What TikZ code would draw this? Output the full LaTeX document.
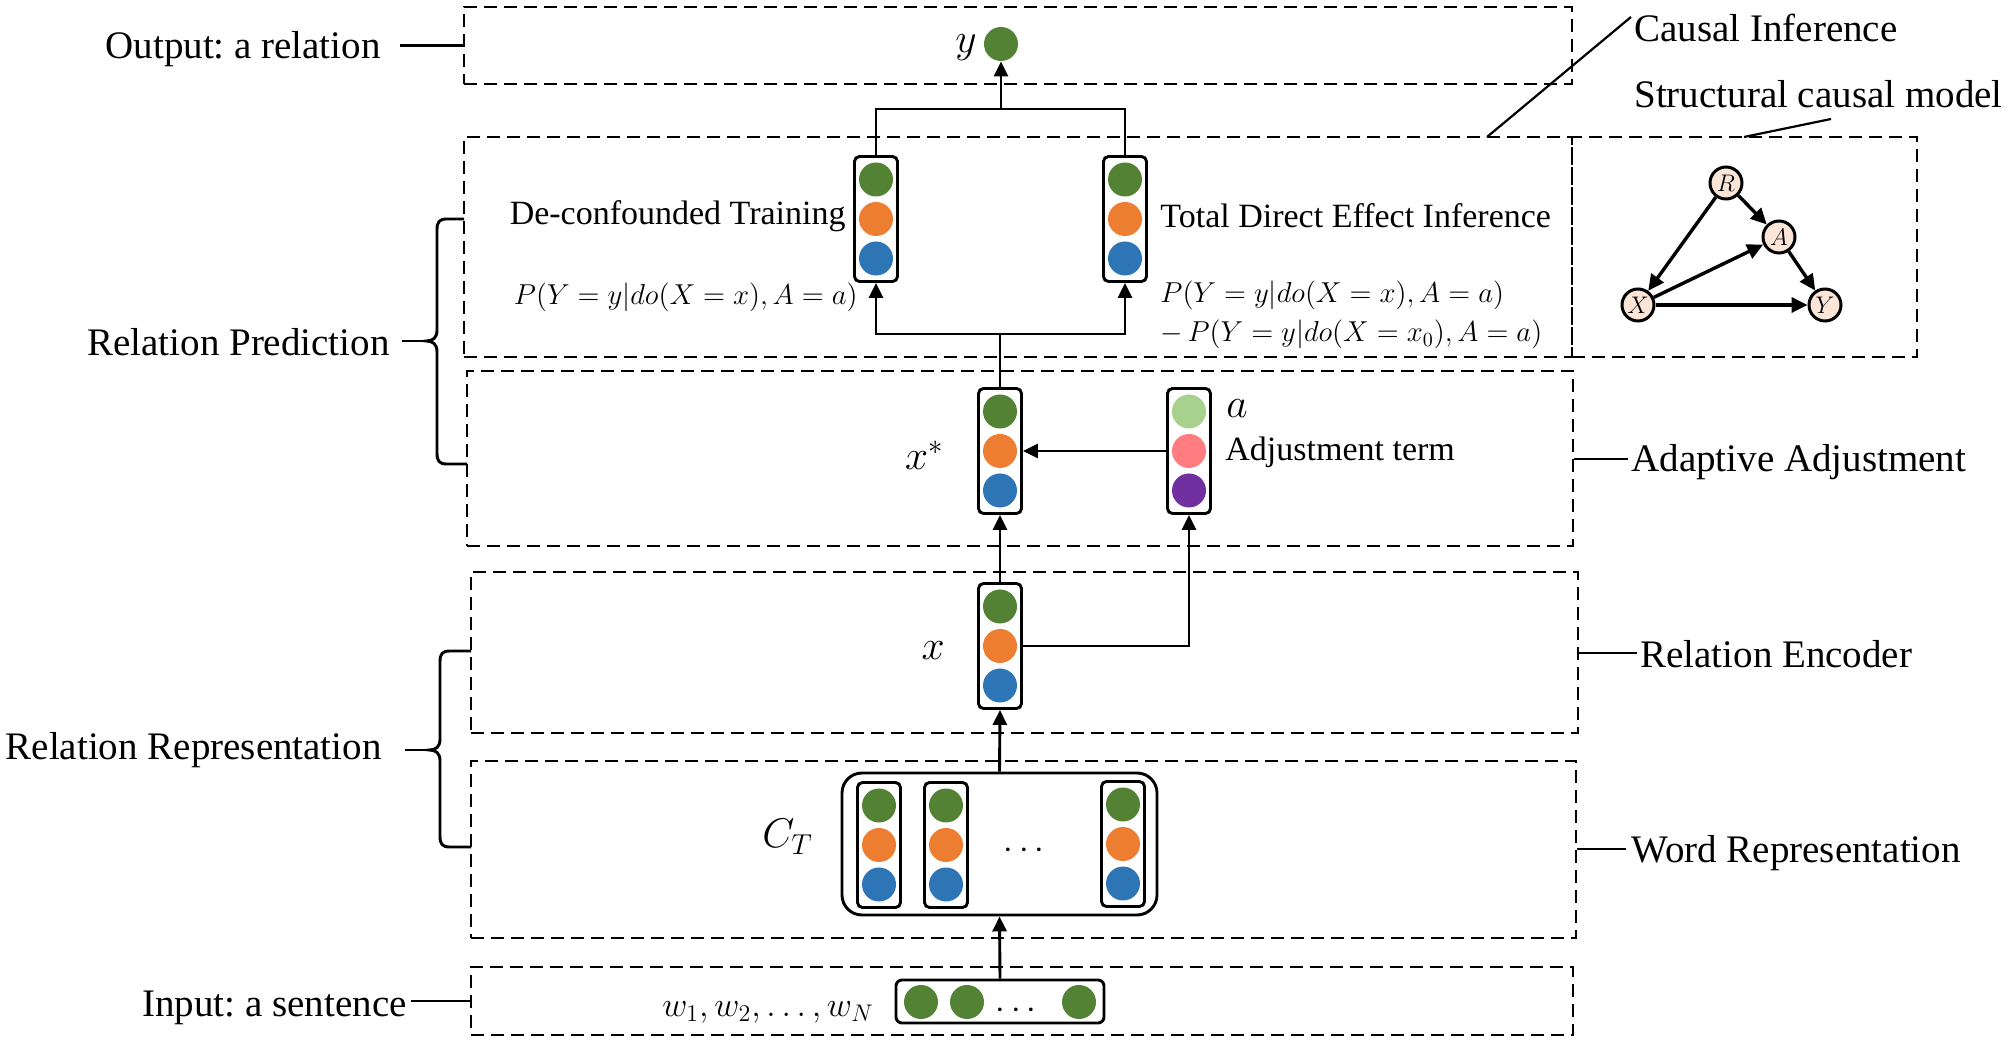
\documentclass[tikz,border=0pt]{standalone}
\usepackage{fontspec}
\setmainfont{Liberation Serif}
\usetikzlibrary{arrows.meta,fit}
\frenchspacing
\definecolor{cgreen}{HTML}{548235}
\definecolor{corange}{HTML}{ED7D31}
\definecolor{cblue}{HTML}{2E75B6}
\definecolor{clgreen}{HTML}{A9D18E}
\definecolor{cpink}{HTML}{FF7C80}
\definecolor{cpurple}{HTML}{7030A0}
\definecolor{cpeach}{HTML}{FBE5D6}
\tikzset{
  dashbox/.style={draw, line width=1.35pt, dash pattern=on 6.5pt off 3.5pt, inner sep=0pt},
  lbl/.style={font=\fontsize{19.5}{21}\selectfont, inner sep=0pt},
  ilbl/.style={font=\fontsize{17}{19}\selectfont, inner sep=0pt},
  mlbl/.style={font=\fontsize{14.6}{16}\selectfont, inner sep=0pt},
  mbig/.style={font=\fontsize{21}{23}\selectfont, inner sep=0pt},
  mmid/.style={font=\fontsize{18}{20}\selectfont, inner sep=0pt},
  conn/.style={line width=1.45pt},
  arr/.style={conn, -{Triangle[length=7.5pt,width=7pt]}},
  vecbox/.style={draw, line width=1.45pt, rounded corners=2.5pt, minimum width=21.5pt, minimum height=62.5pt, inner sep=0pt},
  vdot/.style={circle, minimum size=17pt, inner sep=0pt},
  scm/.style={circle, draw, line width=1.5pt, fill=cpeach, minimum size=16pt, inner sep=0pt, font=\fontsize{13}{14}\selectfont},
  scmarr/.style={line width=1.7pt, -{Triangle[length=8pt,width=7.5pt]}},
  rbox/.style={draw, line width=1.45pt, inner sep=0pt},
}
\newcommand\mkvec[5]{%
  \node[vecbox] (#1) at (#2) {};
  \node[vdot, fill=#3] (#1-1) at ([yshift=19.75pt]#1.center) {};
  \node[vdot, fill=#4] (#1-2) at (#1.center) {};
  \node[vdot, fill=#5] (#1-3) at ([yshift=-19.75pt]#1.center) {};
}
\begin{document}
\begin{tikzpicture}[x=0.5pt,y=-0.5pt]
\useasboundingbox (0,0) rectangle (2015,1047);

% dashed boxes
\node[dashbox, fit={(464,7)(1572,84)}] (outbox) {};
\node[dashbox, fit={(464,137)(1572,357)}] (predbox) {};
\node[dashbox, fit={(1572,137)(1917,357)}] (scmbox) {};
\node[dashbox, fit={(467,371)(1573,546)}] (adabox) {};
\node[dashbox, fit={(471,572)(1578,733)}] (encbox) {};
\node[dashbox, fit={(471,761)(1576,938)}] (wordbox) {};
\node[dashbox, fit={(471,967)(1573,1035)}] (inbox) {};

% left labels
\node[lbl, anchor=base east] (outlbl) at (381,59) {Output: a relation};
\coordinate (outtick) at (400,45.5);
\draw[conn] (outtick) -- (outtick -| outbox.west);

\node[lbl, anchor=base east] (predlbl) at (390,356) {Relation Prediction};
\draw[conn] (402,341) -- (426,341);
\draw[conn] (464,219) -- (447,219) .. controls (439,219) and (437,222) .. (437,230) -- (437,330)
  .. controls (437,338) and (433,341) .. (426,341) .. controls (433,341) and (437,344) .. (437,352)
  -- (437,453) .. controls (437,461) and (439,464) .. (447,464) -- (467,464);

\node[lbl, anchor=base east] (replbl) at (382,760) {Relation Representation};
\draw[conn] (405,750) -- (429,750);
\draw[conn] (471,651) -- (450,651) .. controls (442,651) and (440,654) .. (440,662) -- (440,739)
  .. controls (440,747) and (436,750) .. (429,750) .. controls (436,750) and (440,753) .. (440,761)
  -- (440,836) .. controls (440,844) and (442,847) .. (450,847) -- (471,847);

\node[lbl, anchor=base east] (inlbl) at (407,1016) {Input: a sentence};
\coordinate (intick) at (411,1001);
\draw[conn] (intick) -- (intick -| inbox.west);

% right labels
\node[lbl, anchor=base west] (cilbl) at (1634,42) {Causal Inference};
\coordinate (cia) at (1631,17);
\coordinate (cib) at (1487,137);
\draw[conn, line width=1.1pt] (cia) -- (cib);
\node[lbl, anchor=base west] (scmlbl) at (1634,108) {Structural causal model};
\coordinate (sca) at (1831,119);
\coordinate (scb) at (1744,137);
\draw[conn, line width=1.1pt] (sca) -- (scb);

\node[lbl, anchor=base west] (adalbl) at (1631,472) {Adaptive Adjustment};
\coordinate (adat) at (1628,459);
\draw[conn] (adat -| adabox.east) -- (adat);
\node[lbl, anchor=base west] (enclbl) at (1640,668) {Relation Encoder};
\coordinate (enct) at (1637,653);
\draw[conn] (enct -| encbox.east) -- (enct);
\node[lbl, anchor=base west] (wordlbl) at (1631,863) {Word Representation};
\coordinate (wordt) at (1626,849);
\draw[conn] (wordt -| wordbox.east) -- (wordt);

% output
\node[vdot, fill=cgreen] (ynode) at (1001,44) {};
\node[mbig, anchor=base east] (ylbl) at (977,53) {$y$};

% prediction columns
\mkvec{dt}{876,219}{cgreen}{corange}{cblue}
\mkvec{tde}{1125,219}{cgreen}{corange}{cblue}
\node[ilbl, anchor=base east] (dtlbl) at (846,225) {De-confounded Training};
\node[mlbl, anchor=base east] (dtf) at (858,305) {$P(Y=y|do(X=x),A=a)$};
\node[ilbl, anchor=base west] (tdelbl) at (1160,228) {Total Direct Effect Inference};
\node[mlbl, anchor=base west] (tdef1) at (1160,303) {$P(Y=y|do(X=x),A=a)$};
\node[mlbl, anchor=base west] (tdef2) at (1160,342) {$-\,P(Y=y|do(X=x_0),A=a)$};

% adjustment
\mkvec{xs}{1000,451}{cgreen}{corange}{cblue}
\mkvec{av}{1189,451}{clgreen}{cpink}{cpurple}
\node[mbig, anchor=base east] (xslbl) at (944,470) {$x^*$};
\node[mbig, anchor=base west] (albl) at (1226,418) {$a$};
\node[ilbl, anchor=base west] (adjlbl) at (1225,461) {Adjustment term};

% encoder
\mkvec{xv}{1000,646}{cgreen}{corange}{cblue}
\node[mbig, anchor=base east] (xlbl) at (945,660) {$x$};

% word representation
\node[rbox, rounded corners=10pt, fit={(842,773)(1157,915)}] (wbox) {};
\mkvec{w1}{879,845}{cgreen}{corange}{cblue}
\mkvec{w2}{946,845}{cgreen}{corange}{cblue}
\mkvec{w3}{1123,844}{cgreen}{corange}{cblue}
\node[mmid] (wdots) at (1024,851) {$\cdots$};
\node[mbig, anchor=base west] (ctlbl) at (762,848) {$C_T$};

% input
\node[rbox, rounded corners=3pt, fit={(896,980)(1104,1023)}] (invec) {};
\node[vdot, fill=cgreen] (i1) at (921,1002) {};
\node[vdot, fill=cgreen] (i2) at (967,1002) {};
\node[vdot, fill=cgreen] (i3) at (1079,1002) {};
\node[mmid] (idots) at (1016,1011) {$\cdots$};
\node[mmid, anchor=base east] (wlbl) at (874,1016) {$w_1,w_2,\dots,w_N$};

% connectors
\draw[arr] (invec.north) -- (wbox.south);
\draw[arr] (wbox.north) -- (xv.south);
\draw[arr] (xv.north) -- (xs.south);
\draw[arr] (xv.east) -| (av.south);
\draw[arr] (av.west) -- (xs.east);
\coordinate (jlow) at (1000,334);
\draw[conn] (xs.north) -- (jlow);
\draw[arr] (jlow) -| (dt.south);
\draw[arr] (jlow) -| (tde.south);
\coordinate (jhigh) at (1001,109);
\draw[conn] (dt.north) |- (jhigh);
\draw[conn] (tde.north) |- (jhigh);
\draw[arr] (jhigh) -- (ynode.south);

% structural causal model
\node[scm] (R) at (1726,183) {$R$};
\node[scm] (A) at (1779,237) {$A$};
\node[scm] (X) at (1638,305) {$X$};
\node[scm] (Y) at (1825,305) {$Y$};
\draw[scmarr] (R) -- (X);
\draw[scmarr] (R) -- (A);
\draw[scmarr] (X) -- (A);
\draw[scmarr] (A) -- (Y);
\draw[scmarr] (X) -- (Y);
\end{tikzpicture}
\end{document}
